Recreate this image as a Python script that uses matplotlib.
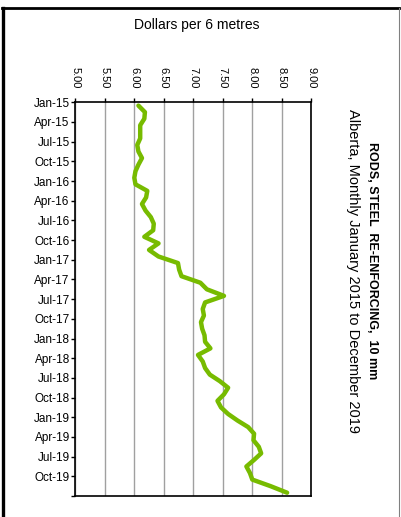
import numpy as np
import matplotlib
matplotlib.use('Agg')
import matplotlib.pyplot as plt
from matplotlib.lines import Line2D

plt.rcParams['font.family'] = ['Liberation Sans', 'DejaVu Sans']

# monthly price, Jan 2015 - Dec 2019 (dollars per 6 metres)
prices = [6.07, 6.18, 6.17, 6.10, 6.10, 6.10, 6.05, 6.07, 6.13, 6.07, 6.02, 6.00,
          6.02, 6.22, 6.20, 6.13, 6.19, 6.28, 6.33, 6.32, 6.17, 6.41, 6.25, 6.41,
          6.74, 6.76, 6.80, 7.12, 7.23, 7.52, 7.20, 7.16, 7.18, 7.13, 7.15, 7.19,
          7.20, 7.29, 7.08, 7.16, 7.20, 7.28, 7.45, 7.59, 7.52, 7.41, 7.47, 7.59,
          7.75, 7.93, 8.03, 8.02, 8.11, 8.15, 8.03, 7.90, 7.96, 8.00, 8.31, 8.59]
tick_labels = ['Jan-15', 'Apr-15', 'Jul-15', 'Oct-15', 'Jan-16', 'Apr-16', 'Jul-16', 'Oct-16',
               'Jan-17', 'Apr-17', 'Jul-17', 'Oct-17', 'Jan-18', 'Apr-18', 'Jul-18', 'Oct-18',
               'Jan-19', 'Apr-19', 'Jul-19', 'Oct-19', '']
value_ticks = [5.0, 5.5, 6.0, 6.5, 7.0, 7.5, 8.0, 8.5, 9.0]

fig = plt.figure(figsize=(4.01, 5.17), dpi=100)
ax = fig.add_axes([75.3/401, 1-496/517, (311.3-75.3)/401, (496-102.3)/517])

months = np.arange(len(prices)) + 0.5
ax.plot(prices, months, color='#77BB00', linewidth=3.2, solid_joinstyle='round',
        solid_capstyle='round', zorder=3)

ax.set_xlim(5, 9)
ax.set_ylim(60, 0)
ax.set_xticks(value_ticks)
ax.set_xticklabels(['%.2f' % v for v in value_ticks], rotation=270, fontsize=8)
ax.set_yticks(np.arange(0, 61, 3))
ax.set_yticklabels(tick_labels, fontsize=8.5)
ax.xaxis.tick_top()
ax.tick_params(axis='x', direction='out', length=3, width=1, pad=7)
ax.tick_params(axis='y', direction='out', length=3, width=1, pad=1)
ax.grid(axis='x', color='#A0A0A0', linewidth=1)
for s in ax.spines.values():
    s.set_linewidth(1.2)
    s.set_color('black')

fig.text(197/401, 1-25/517, 'Dollars per 6 metres', ha='center', va='center', fontsize=10)
fig.text(372/401, 1-261/517, 'RODS, STEEL  RE-ENFORCING,  10 mm', rotation=270,
         ha='center', va='center', fontsize=9, fontweight='bold')
fig.text(353/401, 1-271/517, 'Alberta, Monthly January 2015 to December 2019', rotation=270,
         ha='center', va='center', fontsize=10.5)

# outer frame
fig.add_artist(Line2D([3/401, 3/401], [0, 1-8/517], color='black', linewidth=2.4))
fig.add_artist(Line2D([2/401, 398.5/401], [1-8/517, 1-8/517], color='black', linewidth=2.0))
fig.add_artist(Line2D([398.5/401, 398.5/401], [0, 1-8/517], color='#808080', linewidth=0.8))

plt.savefig('out.png', dpi=100)
